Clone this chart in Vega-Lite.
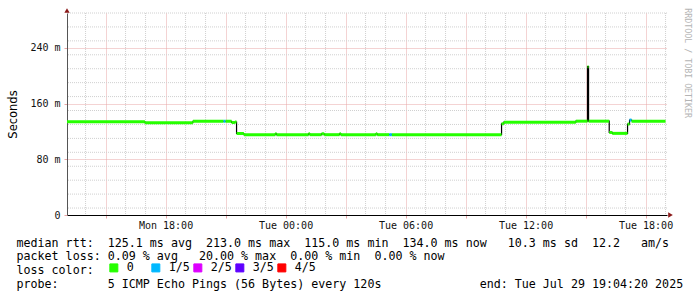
{
  "$schema": "https://vega.github.io/schema/vega-lite/v6.json",
  "width": 600,
  "height": 202,
  "autosize": {"type": "none"},
  "padding": {"left": 67, "top": 13, "right": 30, "bottom": 82},
  "background": "#ffffff",
  "title": {"text": "RRDTOOL / TOBI OETIKER", "orient": "right", "anchor": "start", "font": "DejaVu Sans Mono", "fontSize": 8.3, "fontWeight": "normal", "color": "#b4b4b4", "offset": 1},
  "config": {"view": {"stroke": null}},
  "datasets": {
    "median": [
      {"start": "2025-07-28T13:04:20Z", "end": "2025-07-28T16:58:00Z", "rtt": 133.8, "loss": "0"},
      {"start": "2025-07-28T16:58:00Z", "end": "2025-07-28T19:22:00Z", "rtt": 132.5, "loss": "0"},
      {"start": "2025-07-28T19:22:00Z", "end": "2025-07-28T20:54:00Z", "rtt": 134.6, "loss": "0"},
      {"start": "2025-07-28T20:54:00Z", "end": "2025-07-28T21:00:00Z", "rtt": 134.6, "loss": "1/5"},
      {"start": "2025-07-28T21:00:00Z", "end": "2025-07-28T21:18:00Z", "rtt": 134.6, "loss": "0"},
      {"start": "2025-07-28T21:18:00Z", "end": "2025-07-28T21:28:00Z", "rtt": 132.8, "loss": "0"},
      {"start": "2025-07-28T21:28:00Z", "end": "2025-07-28T21:33:00Z", "rtt": 133.5, "loss": "0"},
      {"start": "2025-07-28T21:33:00Z", "end": "2025-07-28T21:55:00Z", "rtt": 117.0, "loss": "0"},
      {"start": "2025-07-28T21:55:00Z", "end": "2025-07-28T23:29:00Z", "rtt": 115.3, "loss": "0"},
      {"start": "2025-07-28T23:29:00Z", "end": "2025-07-28T23:33:00Z", "rtt": 116.6, "loss": "0"},
      {"start": "2025-07-28T23:33:00Z", "end": "2025-07-29T01:09:00Z", "rtt": 115.3, "loss": "0"},
      {"start": "2025-07-29T01:09:00Z", "end": "2025-07-29T01:13:00Z", "rtt": 116.6, "loss": "0"},
      {"start": "2025-07-29T01:13:00Z", "end": "2025-07-29T01:48:00Z", "rtt": 115.3, "loss": "0"},
      {"start": "2025-07-29T01:48:00Z", "end": "2025-07-29T01:56:00Z", "rtt": 116.6, "loss": "0"},
      {"start": "2025-07-29T01:56:00Z", "end": "2025-07-29T02:42:00Z", "rtt": 115.3, "loss": "0"},
      {"start": "2025-07-29T02:42:00Z", "end": "2025-07-29T02:46:00Z", "rtt": 116.6, "loss": "0"},
      {"start": "2025-07-29T02:46:00Z", "end": "2025-07-29T04:31:00Z", "rtt": 115.3, "loss": "0"},
      {"start": "2025-07-29T04:31:00Z", "end": "2025-07-29T04:35:00Z", "rtt": 116.6, "loss": "0"},
      {"start": "2025-07-29T04:35:00Z", "end": "2025-07-29T05:11:00Z", "rtt": 115.3, "loss": "0"},
      {"start": "2025-07-29T05:11:00Z", "end": "2025-07-29T05:19:00Z", "rtt": 115.3, "loss": "1/5"},
      {"start": "2025-07-29T05:19:00Z", "end": "2025-07-29T10:48:00Z", "rtt": 115.3, "loss": "0"},
      {"start": "2025-07-29T10:48:00Z", "end": "2025-07-29T10:55:00Z", "rtt": 131.0, "loss": "0"},
      {"start": "2025-07-29T10:55:00Z", "end": "2025-07-29T14:31:00Z", "rtt": 133.2, "loss": "0"},
      {"start": "2025-07-29T14:31:00Z", "end": "2025-07-29T15:06:00Z", "rtt": 134.7, "loss": "0"},
      {"start": "2025-07-29T15:06:00Z", "end": "2025-07-29T15:09:00Z", "rtt": 213.0, "loss": "0"},
      {"start": "2025-07-29T15:09:00Z", "end": "2025-07-29T16:11:00Z", "rtt": 134.7, "loss": "0"},
      {"start": "2025-07-29T16:11:00Z", "end": "2025-07-29T16:20:00Z", "rtt": 118.5, "loss": "0"},
      {"start": "2025-07-29T16:20:00Z", "end": "2025-07-29T17:06:00Z", "rtt": 117.2, "loss": "0"},
      {"start": "2025-07-29T17:06:00Z", "end": "2025-07-29T17:12:00Z", "rtt": 130.5, "loss": "0"},
      {"start": "2025-07-29T17:12:00Z", "end": "2025-07-29T17:18:00Z", "rtt": 136.3, "loss": "1/5"},
      {"start": "2025-07-29T17:18:00Z", "end": "2025-07-29T19:00:00Z", "rtt": 134.7, "loss": "0"}
    ],
    "arrows": [
      {"t": "2025-07-28T13:04:20Z", "v": 293.6, "dir": "up"},
      {"t": "2025-07-29T19:14:50Z", "v": 0, "dir": "right"}
    ],
    "minorHours": [
      {"t": "2025-07-28T14:00:00Z"}, {"t": "2025-07-28T16:00:00Z"}, {"t": "2025-07-28T17:00:00Z"},
      {"t": "2025-07-28T19:00:00Z"}, {"t": "2025-07-28T20:00:00Z"}, {"t": "2025-07-28T22:00:00Z"},
      {"t": "2025-07-28T23:00:00Z"}, {"t": "2025-07-29T01:00:00Z"}, {"t": "2025-07-29T02:00:00Z"},
      {"t": "2025-07-29T04:00:00Z"}, {"t": "2025-07-29T05:00:00Z"}, {"t": "2025-07-29T07:00:00Z"},
      {"t": "2025-07-29T08:00:00Z"}, {"t": "2025-07-29T10:00:00Z"}, {"t": "2025-07-29T11:00:00Z"},
      {"t": "2025-07-29T13:00:00Z"}, {"t": "2025-07-29T14:00:00Z"}, {"t": "2025-07-29T16:00:00Z"},
      {"t": "2025-07-29T17:00:00Z"}, {"t": "2025-07-29T19:00:00Z"}
    ],
    "minorMs": [
      {"v": 10}, {"v": 30}, {"v": 50}, {"v": 70}, {"v": 90}, {"v": 110}, {"v": 130}, {"v": 150},
      {"v": 170}, {"v": 190}, {"v": 210}, {"v": 230}, {"v": 250}, {"v": 270}, {"v": 290}
    ]
  },
  "layer": [
    {
      "data": {"name": "minorHours"},
      "mark": {"type": "rule", "color": "#d0d0d0", "strokeWidth": 1, "strokeDash": [1, 1]},
      "encoding": {"x": {"field": "t", "type": "temporal"}}
    },
    {
      "data": {"name": "minorMs"},
      "mark": {"type": "rule", "color": "#d0d0d0", "strokeWidth": 1, "strokeDash": [1, 1]},
      "encoding": {"y": {"field": "v", "type": "quantitative"}}
    },
    {
      "data": {"name": "median"},
      "mark": {"type": "line", "interpolate": "step-after", "color": "#000000", "strokeWidth": 1.2},
      "encoding": {
        "x": {"field": "start", "type": "temporal", "scale": {"type": "utc", "domain": [1753707860000, 1753815860000], "nice": false},
          "axis": {
            "title": ["median rtt:\u00a0\u00a0125.1 ms avg\u00a0\u00a0213.0 ms max\u00a0\u00a0115.0 ms min\u00a0\u00a0134.0 ms now\u00a0\u00a0\u00a010.3 ms sd\u00a0\u00a012.2\u00a0\u00a0\u00a0am/s", "packet loss: 0.09 % avg\u00a0\u00a0\u00a020.00 % max\u00a0\u00a00.00 % min\u00a0\u00a00.00 % now", "loss color:", "probe:\u00a0\u00a0\u00a0\u00a0\u00a0\u00a0\u00a05 ICMP Echo Pings (56 Bytes) every 120s\u00a0\u00a0\u00a0\u00a0\u00a0\u00a0\u00a0\u00a0\u00a0\u00a0\u00a0\u00a0\u00a0\u00a0end: Tue Jul 29 19:04:20 2025"],
            "titleX": -51, "titleY": 22, "titleAlign": "left", "titleBaseline": "top",
            "titleFont": "DejaVu Sans Mono", "titleFontSize": 11.66, "titleFontWeight": "normal", "titleColor": "#000000", "titleLineHeight": 13.8,
            "values": [1753714800000, 1753725600000, 1753736400000, 1753747200000, 1753758000000, 1753768800000, 1753779600000, 1753790400000, 1753801200000, 1753812000000],
            "labelExpr": "utchours(datum.value) % 6 === 0 ? utcFormat(datum.value, '%a %H:%M') : ''",
            "labelFont": "DejaVu Sans Mono", "labelFontSize": 10, "labelColor": "#111111", "labelPadding": 2,
            "labelOverlap": false, "labelFlush": false, "labelBound": false, "labelAngle": 0,
            "grid": true, "gridColor": "#e8a6a6", "gridDash": [1, 1], "gridWidth": 1,
            "ticks": true, "tickSize": 3, "tickColor": "#e8a6a6",
            "domainColor": "#000000", "domainWidth": 1
          }},
        "y": {"field": "rtt", "type": "quantitative", "scale": {"domain": [0, 290], "nice": false},
          "axis": {
            "title": "Seconds", "titleFont": "DejaVu Sans", "titleFontSize": 11.5, "titleFontWeight": "normal", "titleColor": "#000000", "titlePadding": 11,
            "values": [0, 20, 40, 60, 80, 100, 120, 140, 160, 180, 200, 220, 240, 260, 280],
            "labelExpr": "datum.value === 0 ? '0\u00a0\u00a0' : datum.value + ' m'",
            "labelFont": "DejaVu Sans Mono", "labelFontSize": 10, "labelColor": "#111111", "labelPadding": 4, "labelFlush": false, "labelOverlap": false, "labelSeparation": -40,
            "grid": true, "gridColor": "#e8a6a6", "gridDash": [1, 1], "gridWidth": 1,
            "ticks": true, "tickSize": 3, "tickColor": "#e8a6a6",
            "domainColor": "#555555", "domainWidth": 1
          }}
      }
    },
    {
      "data": {"name": "median"},
      "mark": {"type": "rule", "strokeWidth": 3},
      "encoding": {
        "x": {"field": "start", "type": "temporal"},
        "x2": {"field": "end"},
        "y": {"field": "rtt", "type": "quantitative"},
        "color": {"field": "loss", "type": "nominal",
          "scale": {"domain": ["0", "1/5", "2/5", "3/5", "4/5"], "range": ["#26ff00", "#00b8ff", "#dd00ff", "#5e00ff", "#ff0000"]},
          "legend": {
            "orient": "none", "legendX": 41, "legendY": 249, "direction": "horizontal",
            "title": null,
            "labelFont": "DejaVu Sans Mono", "labelFontSize": 11.66, "labelColor": "#000000", "labelOffset": 7,
            "symbolType": "square", "symbolSize": 64, "symbolStrokeWidth": 1, "symbolStrokeColor": "#000000",
            "columnPadding": 1, "gridAlign": "all", "padding": 0,
            "encode": {"symbols": {"update": {"fill": {"scale": "color", "field": "value"}, "stroke": {"value": "#000000"}, "strokeWidth": {"value": 1}, "opacity": {"value": 1}}}}
          }}
      }
    },
    {
      "data": {"name": "arrows"},
      "mark": {"type": "point", "filled": true, "size": 28, "color": "#8b1a1a", "opacity": 1},
      "encoding": {
        "x": {"field": "t", "type": "temporal"},
        "y": {"field": "v", "type": "quantitative"},
        "shape": {"field": "dir", "type": "nominal", "scale": {"domain": ["up", "right"], "range": ["triangle-up", "triangle-right"]}, "legend": null}
      }
    }
  ]
}
